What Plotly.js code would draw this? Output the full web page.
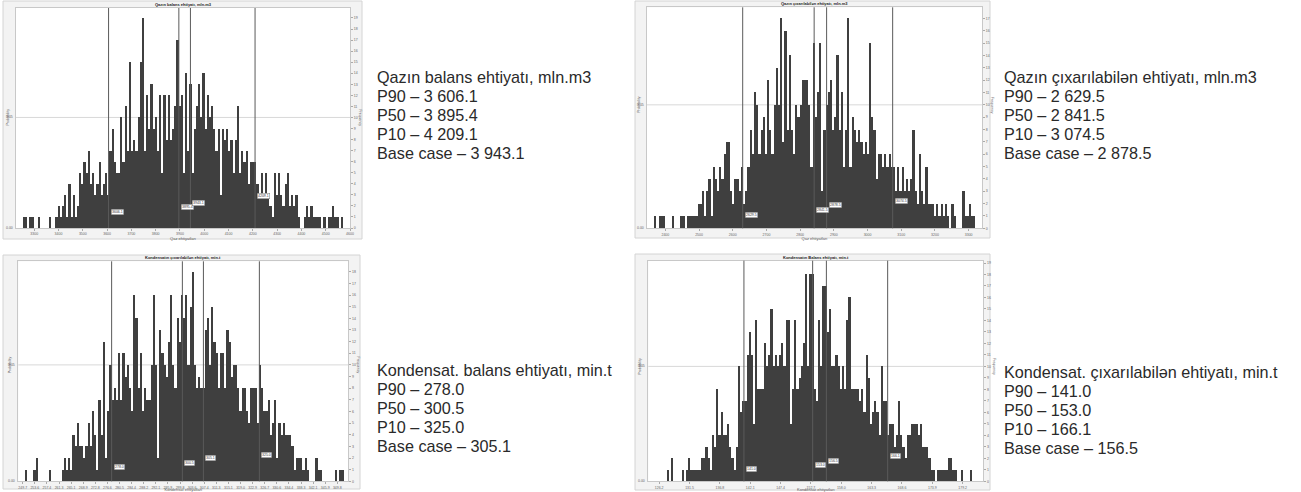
<!DOCTYPE html>
<html>
<head>
<meta charset="utf-8">
<script src="https://cdn.plot.ly/plotly-3.0.1.min.js"></script>
<style>html,body{margin:0;padding:0;background:#fff;}#chart{width:1301px;height:492px;}</style>
</head>
<body>
<div id="chart"></div>
<script>
// ---------- DATA ----------
const titles = ["Qazın balans ehtiyatı, mln.m3", "Qazın çıxarılabilən ehtiyatı, mln.m3",
                "Kondensatın çıxarılabilən ehtiyatı, min.t", "Kondensatın Balans ehtiyatı, min.t"];
const xTitles = ["Qaz ehtiyatları", "Qaz ehtiyatları", "Kondensat ehtiyatları", "Kondensat ehtiyatları"];

// histogram 1: Qazın balans ehtiyatı
const binStart1 = 3258, binWidth1 = 8.9;
const counts1 = [1,1,0,1,1,0,0,1,0,0,0,0,1,0,0,1,2,1,2,3,1,4,1,3,1,2,5,4,6,5,
  7,4,5,3,4,6,3,4,5,3,7,9,6,5,5,10,6,11,7,15,7,8,7,10,15,19,7,12,9,13,
  9,10,7,12,5,12,8,12,8,9,11,17,11,12,5,14,7,13,5,9,11,13,10,14,9,12,10,11,9,7,
  9,3,9,8,9,7,8,5,8,11,5,7,6,7,4,6,6,6,4,3,5,3,5,3,2,1,5,3,5,3,
  2,4,5,2,3,2,3,1,0,0,1,2,1,2,1,1,1,1,0,1,0,1,1,2,1,1,0,1];
const pLines1 = [3606.1, 3895.4, 3943.1, 4209.1];

// histogram 2: Qazın çıxarılabilən ehtiyatı
const binStart2 = 2370, binWidth2 = 6.44;
const counts2 = [1,0,1,1,1,0,0,0,1,0,0,0,1,1,0,1,1,1,1,1,2,2,3,1,3,4,1,5,4,3,
  5,4,6,7,7,3,2,4,4,3,5,2,3,5,8,6,11,10,6,8,9,6,12,8,6,10,13,10,17,7,
  16,8,14,8,6,10,9,10,12,12,12,10,5,15,9,11,15,3,8,10,11,12,8,9,14,8,11,5,8,17,
  5,9,8,7,8,7,6,7,6,15,9,8,4,6,6,5,6,5,6,5,5,3,5,3,5,3,4,3,4,8,
  3,2,6,3,2,5,2,2,2,1,2,1,2,1,2,1,0,2,1,0,0,0,3,1,1,2,1,1];
const pLines2 = [2629.5, 2841.5, 2878.5, 3074.5];

// histogram 3: Kondensat (lower left)
const binStart3 = 250.7, binWidth3 = 0.69;
const counts3 = [1,0,0,0,1,2,0,0,0,0,0,1,0,0,0,0,0,1,2,1,2,1,4,3,5,3,3,2,3,5,
  3,6,4,1,7,4,12,2,6,10,7,8,7,11,7,11,9,10,8,6,16,14,8,11,6,8,7,7,10,16,
  10,2,13,11,10,9,12,16,10,8,14,12,16,14,16,10,15,18,10,8,9,8,8,13,14,10,15,12,11,8,
  11,11,8,13,12,9,10,10,8,6,8,8,6,5,8,8,8,5,10,8,6,6,7,4,5,7,2,5,4,5,
  4,4,4,3,1,2,2,2,1,2,1,0,0,0,2,1,1,0,0,0,0,0,0,1,0,1,1];
const pLines3 = [278.0, 300.5, 307.2, 325.0];

// histogram 4: Kondensat (lower right)
const binStart4 = 127.67, binWidth4 = 0.378;
const counts4 = [1,0,2,0,0,0,0,1,0,1,2,1,1,1,1,1,2,2,3,2,1,4,3,8,4,6,4,4,5,3,
  2,1,3,10,6,7,7,11,13,11,5,14,8,8,8,12,10,11,15,10,11,10,11,12,10,14,14,5,8,14,
  8,9,10,12,18,10,18,18,8,7,14,10,17,17,13,15,10,10,11,10,8,10,8,14,16,8,8,8,8,7,
  8,6,11,9,5,6,7,6,4,10,7,7,4,5,5,3,4,7,4,3,2,4,4,5,5,5,4,5,3,3,
  3,2,1,1,0,1,1,1,1,1,2,2,1,1,0,0,1,0,0,0,1,0];
const pLines4 = [141.0, 153.0, 155.4, 166.1];

const lineLabels1 = ["3606.1", "3895.4", "3943.1", "4209.1"];
const lineLabels2 = ["2629.5", "2841.5", "2878.5", "3074.5"];
const lineLabels3 = ["278.0", "300.5", "305.1", "325.0"];
const lineLabels4 = ["141.0", "153.0", "156.5", "166.1"];

const infoTexts1 = ["Qazın balans ehtiyatı, mln.m3", "P90 – 3 606.1", "P50 – 3 895.4", "P10 – 4 209.1", "Base case – 3 943.1"];
const infoTexts2 = ["Qazın çıxarılabilən ehtiyatı, mln.m3", "P90 – 2 629.5", "P50 – 2 841.5", "P10 – 3 074.5", "Base case – 2 878.5"];
const infoTexts3 = ["Kondensat. balans ehtiyatı, min.t", "P90 – 278.0", "P50 – 300.5", "P10 – 325.0", "Base case – 305.1"];
const infoTexts4 = ["Kondensat. çıxarılabilən ehtiyatı, min.t", "P90 – 141.0", "P50 – 153.0", "P10 – 166.1", "Base case – 156.5"];

// ---------- LAYOUT GEOMETRY ----------
const W = 1301, H = 492;
const panels = [
  {counts: counts1, x0: binStart1, dx: binWidth1, lines: pLines1, labels: lineLabels1, info: infoTexts1,
   plot: [16, 8, 350, 228], frame: [3, 1, 362, 239], xr: [3225, 4600], yr: [0, 19.9],
   tick0: 3300, dtick: 100, fmt: "d", labY: [1.45, 1.9, 2.3, 2.9], infoX: 375, infoY: [76.7, 95.7, 114.7, 133.7, 152.7]},
  {counts: counts2, x0: binStart2, dx: binWidth2, lines: pLines2, labels: lineLabels2, info: infoTexts2,
   plot: [647, 7.3, 982, 228.3], frame: [635, 1, 990, 238], xr: [2345.5, 3339.6], yr: [0, 17.9],
   tick0: 2400, dtick: 100, fmt: "d", labY: [1.1, 1.5, 1.85, 2.2], infoX: 1002, infoY: [76.7, 95.7, 114.7, 133.7, 152.7]},
  {counts: counts3, x0: binStart3, dx: binWidth3, lines: pLines3, labels: lineLabels3, info: infoTexts3,
   plot: [18.3, 261.3, 348.3, 481.3], frame: [3, 255, 360, 489], xr: [248.3, 353.3], yr: [0, 18.9],
   tick0: 249.7, dtick: 3.85, fmt: ".1f", labY: [1.2, 1.6, 2.0, 2.3], infoX: 375, infoY: [370, 389, 408, 427, 446]},
  {counts: counts4, x0: binStart4, dx: binWidth4, lines: pLines4, labels: lineLabels4, info: infoTexts4,
   plot: [648.3, 260.7, 983.3, 481.3], frame: [635, 254, 990, 490], xr: [124.3, 182.8], yr: [0, 19.2],
   tick0: 126.2, dtick: 5.3, fmt: ".1f", labY: [1.1, 1.45, 1.8, 2.2], infoX: 1002, infoY: [372, 391, 410, 429, 448]}
];

const px = v => v / W, py = v => 1 - v / H;
const traces = [], shapes = [], annotations = [];
const layout = {
  width: W, height: H, margin: {l: 0, r: 0, t: 0, b: 0},
  paper_bgcolor: "#ffffff", plot_bgcolor: "#ffffff",
  showlegend: false, bargap: 0,
  font: {family: "Liberation Sans, Arial, sans-serif", color: "#222"}
};

panels.forEach((p, k) => {
  const n = k + 1;
  const xa = n === 1 ? "x" : "x" + n, ya = n === 1 ? "y" : "y" + n;
  traces.push({
    type: "bar", y: p.counts, x0: p.x0, dx: p.dx, xaxis: xa, yaxis: ya,
    marker: {color: "#3f3f3f", line: {width: 0}}, hoverinfo: "skip"
  });
  layout[(n === 1 ? "xaxis" : "xaxis" + n)] = {
    domain: [px(p.plot[0]), px(p.plot[2])], anchor: ya, range: p.xr,
    tick0: p.tick0, dtick: p.dtick, tickformat: p.fmt,
    tickfont: {size: 3.5, color: "#666"}, ticks: "outside", ticklen: 2, tickcolor: "#aaa",
    showgrid: false, zeroline: false, showline: true, linecolor: "#c8c8c8", mirror: true,
    title: {text: xTitles[k], font: {size: 4, color: "#555"}, standoff: 1}
  };
  layout[(n === 1 ? "yaxis" : "yaxis" + n)] = {
    domain: [py(p.plot[3]), py(p.plot[1])], anchor: xa, range: p.yr, side: "right",
    dtick: 1, tickfont: {size: 3.5, color: "#666"}, ticks: "outside", ticklen: 2, tickcolor: "#aaa",
    showgrid: false, zeroline: false, showline: true, linecolor: "#c8c8c8", mirror: true
  };
  // panel frame
  shapes.push({type: "rect", xref: "paper", yref: "paper", layer: "below",
    x0: px(p.frame[0]), x1: px(p.frame[2]), y0: py(p.frame[3]), y1: py(p.frame[1]),
    fillcolor: "#f3f3f3", line: {color: "#d4d4d4", width: 1}});
  // white plot area
  shapes.push({type: "rect", xref: xa + " domain", yref: ya + " domain", layer: "below",
    x0: 0, x1: 1, y0: 0, y1: 1, fillcolor: "#ffffff", line: {width: 0}});
  // mid gridline (probability axis)
  shapes.push({type: "line", xref: xa + " domain", yref: ya, x0: 0, x1: 1, y0: 10, y1: 10,
    layer: "below", line: {color: "#d8d8d8", width: 1}});
  // percentile lines
  p.lines.forEach((v, j) => {
    shapes.push({type: "line", xref: xa, yref: ya + " domain", x0: v, x1: v, y0: 0, y1: 1,
      line: {color: "#5a5a5a", width: 1}});
    annotations.push({xref: xa, yref: ya, x: v, y: p.labY[j], xanchor: "left", yanchor: "middle",
      xshift: 2, text: p.labels[j], showarrow: false, bgcolor: "#ffffff", bordercolor: "#777",
      borderwidth: 0.5, borderpad: 0.5, font: {size: 3.5, color: "#333"}});
  });
  // chart title
  annotations.push({xref: "paper", yref: "paper", x: (px(p.plot[0]) + px(p.plot[2])) / 2, y: py(p.plot[1] - 3.5),
    xanchor: "center", yanchor: "middle", text: "<b>" + titles[k] + "</b>", showarrow: false,
    font: {size: 4, color: "#222"}});
  // probability axis labels (left)
  annotations.push({xref: "paper", yref: ya, x: px(p.plot[0] - 1), y: 0, xanchor: "right", yanchor: "middle",
    text: "0.00", showarrow: false, font: {size: 3.5, color: "#666"}});
  annotations.push({xref: "paper", yref: ya, x: px(p.plot[0] - 1), y: 10, xanchor: "right", yanchor: "middle",
    text: "0.05", showarrow: false, font: {size: 3.5, color: "#666"}});
  annotations.push({xref: "paper", yref: ya, x: px(p.plot[0] - 8), y: 10, xanchor: "center", yanchor: "middle",
    text: "Probability", textangle: -90, showarrow: false, font: {size: 3.5, color: "#555"}});
  annotations.push({xref: "paper", yref: ya, x: px(p.plot[2] + 10), y: 10, xanchor: "center", yanchor: "middle",
    text: "Frequency", textangle: 90, showarrow: false, font: {size: 3.5, color: "#555"}});
  // info text block
  p.info.forEach((t, j) => {
    annotations.push({xref: "paper", yref: "paper", x: px(p.infoX), y: py(p.infoY[j]),
      xanchor: "left", yanchor: "middle", text: t, showarrow: false,
      font: {size: 16.2, color: "#2a2a2a", family: "Liberation Sans, Arial, sans-serif"}});
  });
});

layout.shapes = shapes;
layout.annotations = annotations;
Plotly.newPlot("chart", traces, layout, {staticPlot: true, displayModeBar: false});
</script>
</body>
</html>
